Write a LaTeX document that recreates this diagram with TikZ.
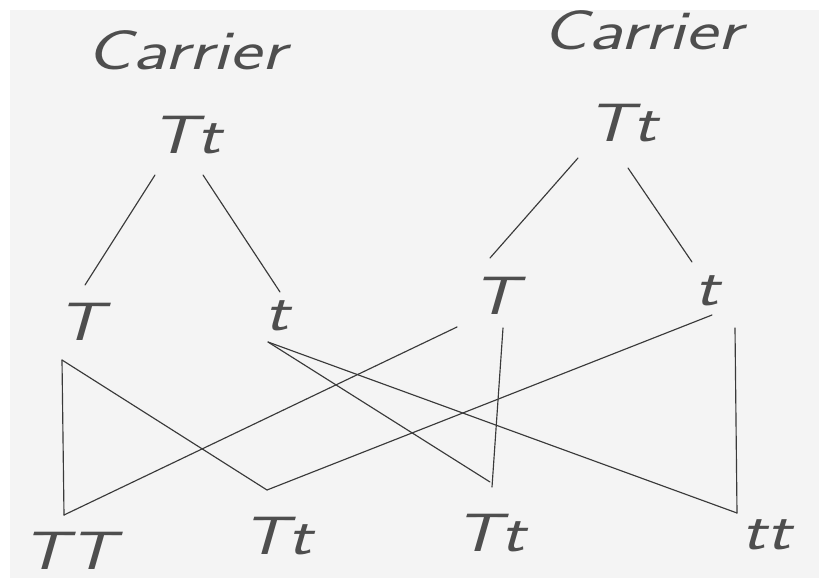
\documentclass[tikz,border=0pt]{standalone}
\usepackage{fontspec}
\definecolor{ink}{HTML}{3A3A3A}
\definecolor{txt}{HTML}{4E4E4E}
\definecolor{paper}{HTML}{F4F4F4}
\newcommand{\wide}[1]{\scalebox{1.35}[1]{#1}}
\begin{document}
\begin{tikzpicture}[x=1pt,y=-1pt,
  lbl/.style={font=\sffamily\slshape\fontsize{54}{58}\selectfont, text=txt, inner sep=0pt},
  captxt/.style={font=\sffamily\slshape\fontsize{56}{60}\selectfont, text=txt, inner sep=0pt},
  edge/.style={draw=ink, line width=1.15pt, line cap=round}]
\useasboundingbox (0,0) rectangle (819,586);
\fill[white] (0,0) rectangle (819,586);
\fill[paper] (10,10) rectangle (819,578);
% captions
\node[captxt] (carL) at (186,50) {\wide{Carrier}};
\node[captxt] (carR) at (642,30) {\wide{Carrier}};
% parents
\node[lbl] (pL) at (186,135) {\wide{Tt}};
\node[lbl] (pR) at (622,123) {\wide{Tt}};
% gametes
\node[lbl] (gT1) at (80,322) {\wide{T}};
\node[lbl] (gt1) at (277,316) {\wide{t}};
\node[lbl] (gT2) at (495,296) {\wide{T}};
\node[lbl] (gt2) at (707,291) {\wide{t}};
% offspring
\node[lbl] (oTT) at (68,551) {\wide{TT}};
\node[lbl] (oTt1) at (277,536) {\wide{Tt}};
\node[lbl] (oTt2) at (490,533) {\wide{Tt}};
\node[lbl] (ott) at (766,535) {\wide{tt}};
% connector end points
\coordinate (a1) at (155,175); \coordinate (a2) at (85,285);
\coordinate (a3) at (203,175); \coordinate (a4) at (280,292);
\coordinate (b1) at (578,158); \coordinate (b2) at (490,258);
\coordinate (b3) at (628,168); \coordinate (b4) at (692,262);
\coordinate (jT1) at (62,360);
\coordinate (jt1) at (268,342);
\coordinate (jT2a) at (457,327);
\coordinate (jT2b) at (503,328);
\coordinate (jt2a) at (712,315);
\coordinate (jt2b) at (735,328);
\coordinate (kTT) at (64,515);
\coordinate (kTt1) at (267,490);
\coordinate (kTt2a) at (490,482);
\coordinate (kTt2b) at (492,487);
\coordinate (ktt) at (737,513);
% top trees
\draw[edge] (a1) -- (a2);
\draw[edge] (a3) -- (a4);
\draw[edge] (b1) -- (b2);
\draw[edge] (b3) -- (b4);
% crosses
\draw[edge] (jT1) -- (kTT);
\draw[edge] (jT1) -- (kTt1);
\draw[edge] (jt1) -- (kTt2a);
\draw[edge] (jt1) -- (ktt);
\draw[edge] (jT2a) -- (kTT);
\draw[edge] (jT2b) -- (kTt2b);
\draw[edge] (jt2a) -- (kTt1);
\draw[edge] (jt2b) -- (ktt);
\end{tikzpicture}
\end{document}
